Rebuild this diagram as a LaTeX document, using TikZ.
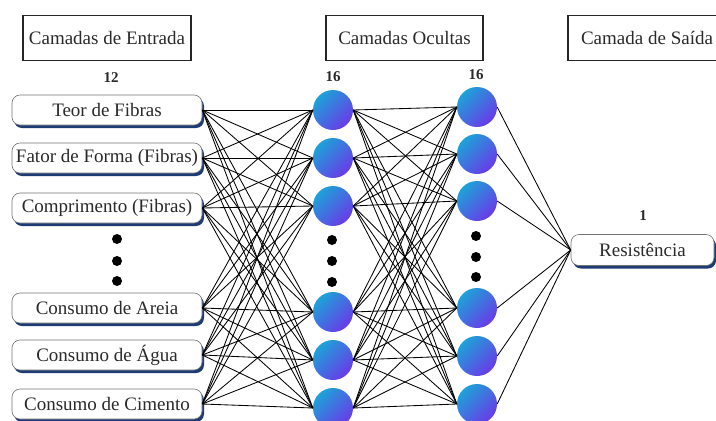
\documentclass[tikz,border=0pt]{standalone}
\usepackage{fontspec}
\setmainfont{Liberation Serif}
\usetikzlibrary{shadows}
\definecolor{navyshadow}{HTML}{1F3B73}
\definecolor{nodecyan}{HTML}{1DA2D8}
\definecolor{nodepurple}{HTML}{6A3AE8}
\definecolor{txt}{HTML}{2A2A2A}
\tikzset{
  header/.style={draw=black!85, line width=1.2pt, rectangle, minimum height=45pt, inner sep=0pt, text=txt, font=\fontsize{19}{22}\selectfont},
  inbox/.style={draw=black!55, line width=0.6pt, fill=white, rectangle, rounded corners=8pt, minimum height=30pt, inner sep=0pt, text=txt, font=\fontsize{19}{22}\selectfont,
     drop shadow={shadow xshift=2pt, shadow yshift=-3pt, fill=navyshadow, opacity=1}},
  neuron/.style={circle, minimum size=40pt, inner sep=0pt, top color=nodecyan, bottom color=nodepurple, shading angle=45},
  count/.style={font=\fontsize{15}{17}\selectfont\bfseries, text=txt},
  vdot/.style={circle, fill=black, minimum size=10pt, inner sep=0pt},
  link/.style={black, line width=0.85pt}
}
\begin{document}
\begin{tikzpicture}[x=1pt, y=-1pt]
\useasboundingbox (0,0) rectangle (716,421);
\clip (0,0) rectangle (716,421);
% headers
\node[header, minimum width=168pt] (hin) at (107,38) {Camadas de Entrada};
\node[header, minimum width=157pt] (hhid) at (404.5,38) {Camadas Ocultas};
\node[header, minimum width=158pt] (hout) at (647,38) {Camada de Saída};
% counts
\node[count] (c12) at (111,78) {12};
\node[count] (c16a) at (333,77) {16};
\node[count] (c16b) at (476,75) {16};
\node[count] (c1) at (643,216) {1};
% connections (drawn first, nodes on top)
\foreach \yy [count=\k] in {110,158,208,308,355,404}{\coordinate (pi\k) at (202,\yy);}
\foreach \yy [count=\k] in {110,158,206,312,360,408}{\coordinate (pa\k) at (333,\yy);}
\foreach \yy [count=\k] in {107,154,201,308,356,404}{\coordinate (pb\k) at (477,\yy);}
% inputs
\node[inbox, minimum width=190pt] (i1) at (107,110) {Teor de Fibras};
\node[inbox, minimum width=190pt] (i2) at (107,158) {Fator de Forma (Fibras)};
\node[inbox, minimum width=190pt] (i3) at (107,208) {Comprimento (Fibras)};
\node[inbox, minimum width=190pt] (i4) at (107,308) {Consumo de Areia};
\node[inbox, minimum width=190pt] (i5) at (107,355) {Consumo de Água};
\node[inbox, minimum width=190pt] (i6) at (107,404) {Consumo de Cimento};
% output
\node[inbox, minimum width=143pt, minimum height=31pt] (out) at (642.5,250) {Resistência};
% hidden 1
\node[neuron] (a1) at (pa1) {};
\node[neuron] (a2) at (pa2) {};
\node[neuron] (a3) at (pa3) {};
\node[neuron] (a4) at (pa4) {};
\node[neuron] (a5) at (pa5) {};
\node[neuron] (a6) at (pa6) {};
% hidden 2
\node[neuron] (b1) at (pb1) {};
\node[neuron] (b2) at (pb2) {};
\node[neuron] (b3) at (pb3) {};
\node[neuron] (b4) at (pb4) {};
\node[neuron] (b5) at (pb5) {};
\node[neuron] (b6) at (pb6) {};
% dots
\node[vdot] (di1) at (117,239) {};
\node[vdot] (di2) at (117,261) {};
\node[vdot] (di3) at (117,281) {};
\node[vdot] (da1) at (332,240) {};
\node[vdot] (da2) at (332,261) {};
\node[vdot] (da3) at (332,282) {};
\node[vdot] (db1) at (476,236) {};
\node[vdot] (db2) at (476,257) {};
\node[vdot] (db3) at (476,277) {};
% connections
\foreach \s in {1,...,6}{
  \foreach \t in {1,...,6}{
    \draw[link] (i\s.east) -- (a\t.west);
    \draw[link] (a\s.east) -- (b\t.west);
  }
  \draw[link] (b\s.east) -- (out.west);
}
\end{tikzpicture}
\end{document}
